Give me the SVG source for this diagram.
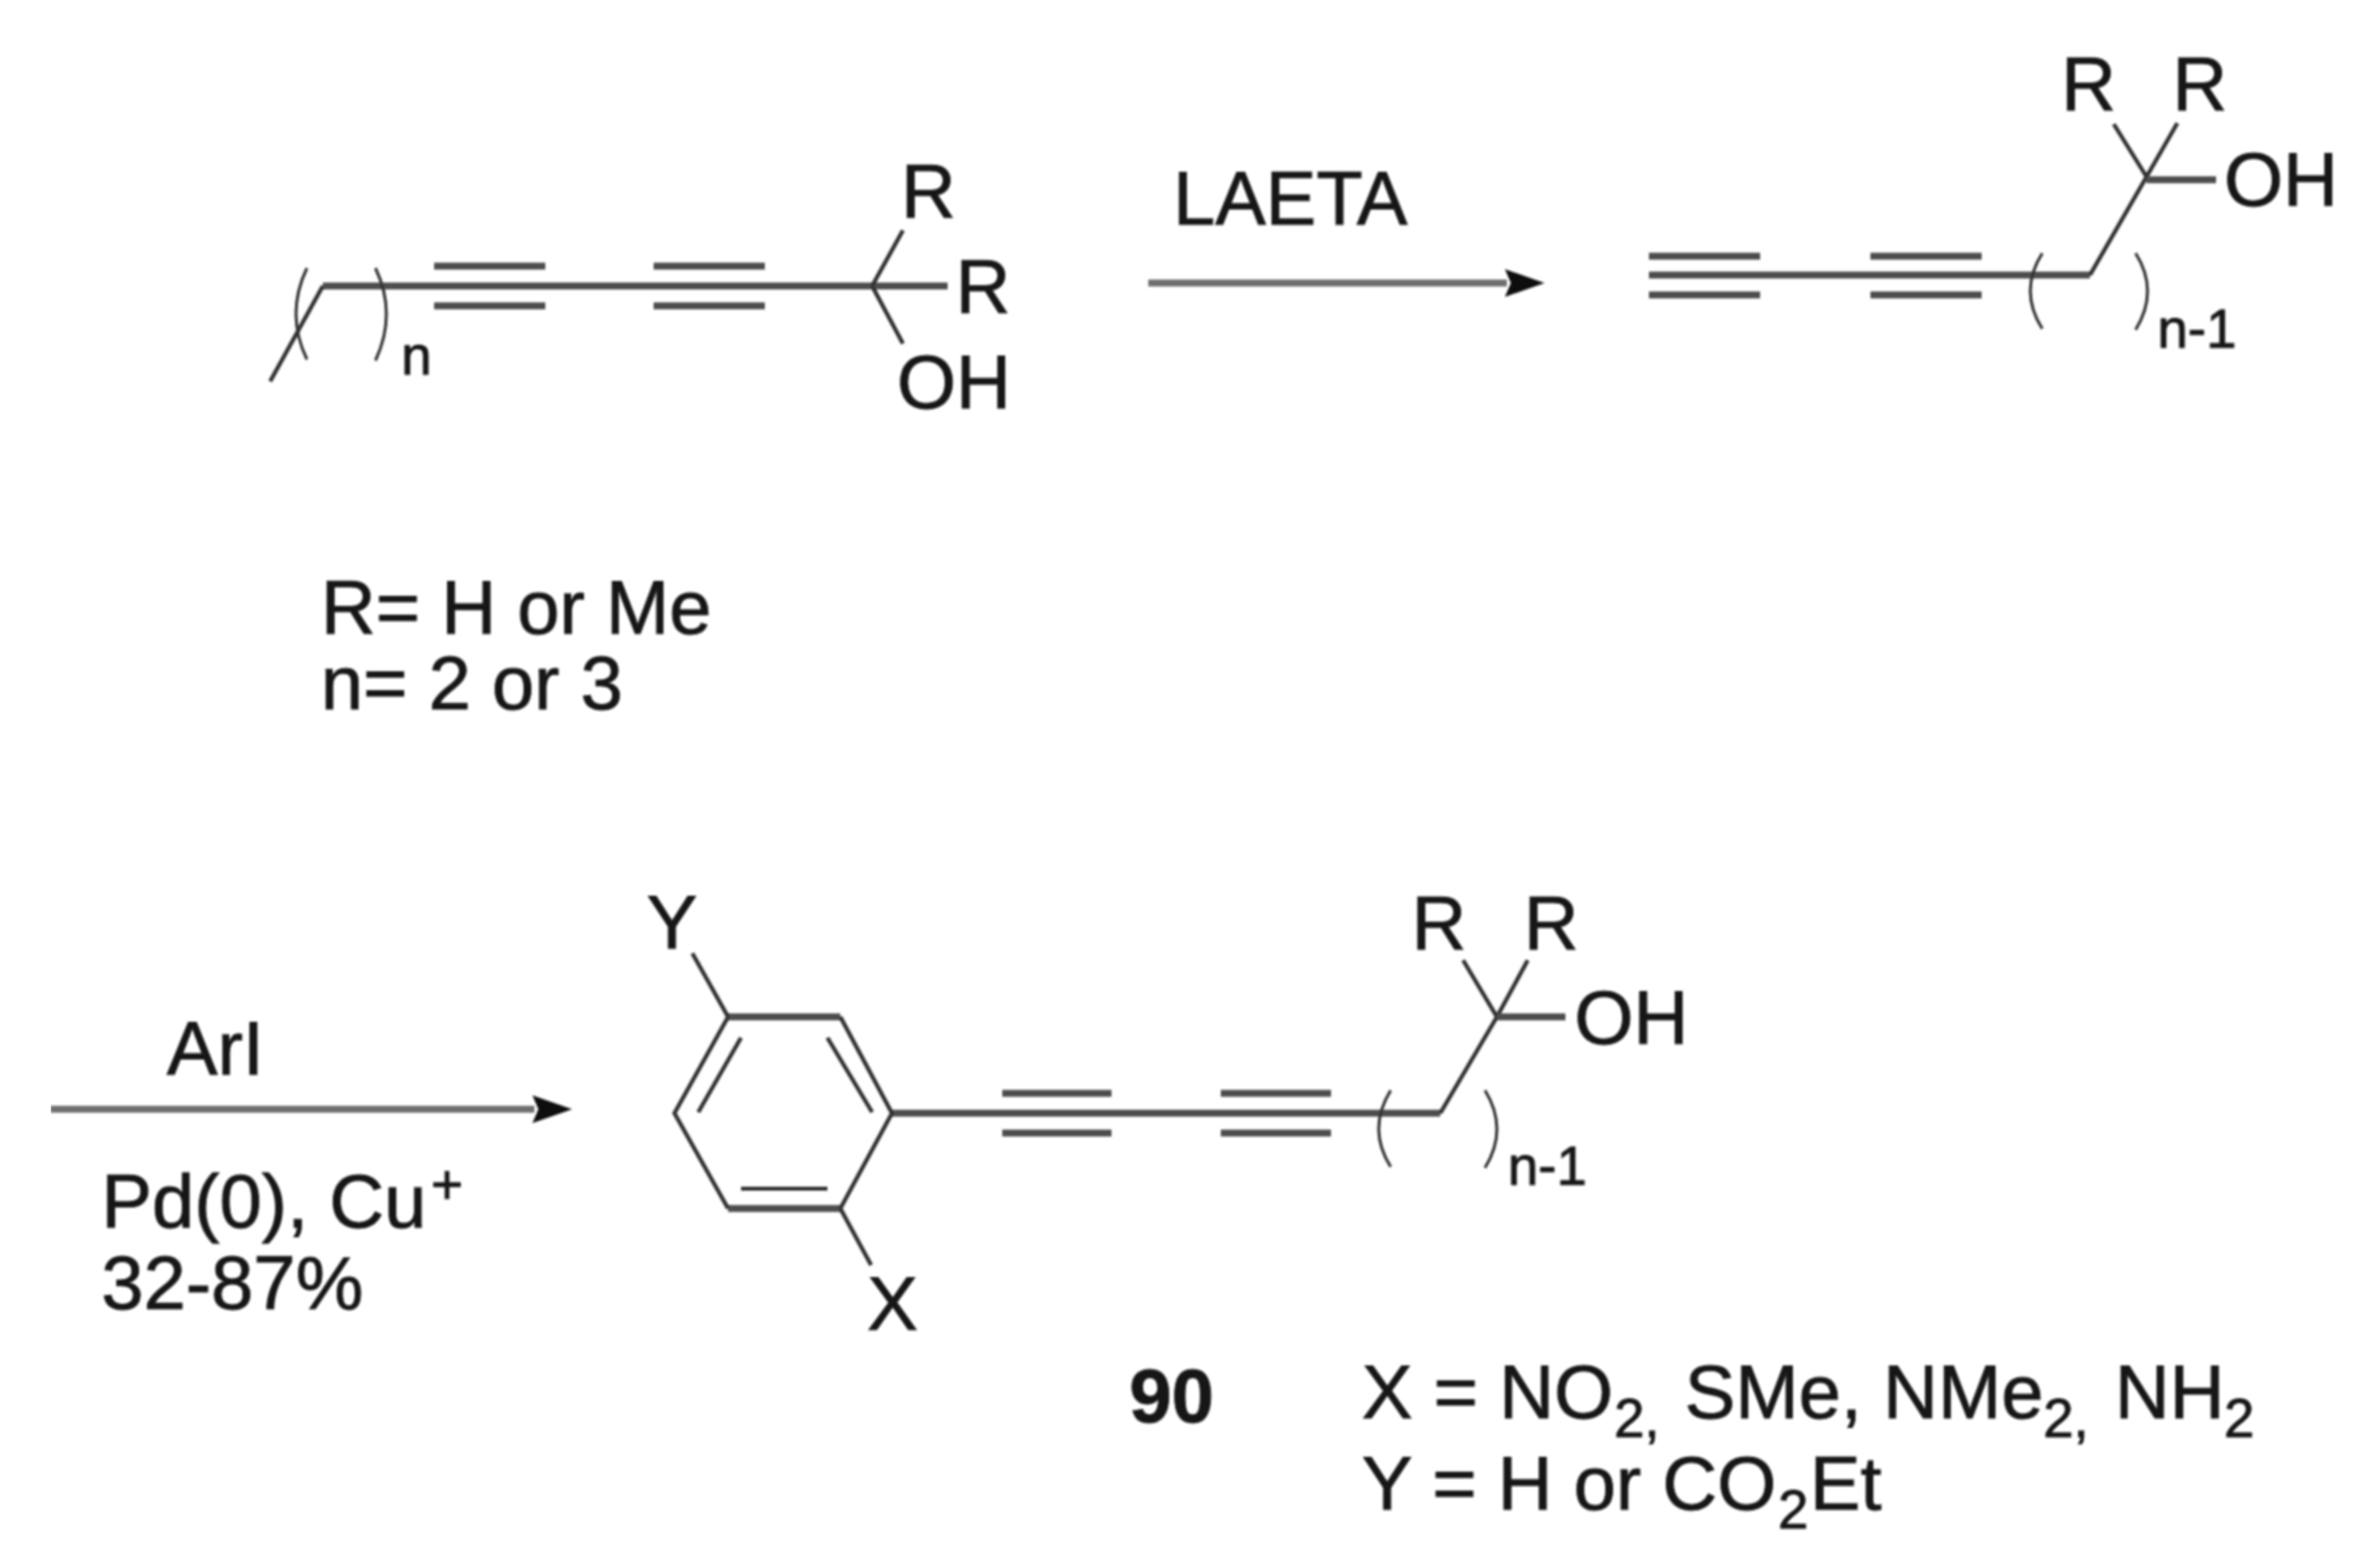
<svg xmlns="http://www.w3.org/2000/svg" width="2393" height="1579" viewBox="0 0 2393 1579">
<defs>
<marker id="head" markerUnits="userSpaceOnUse" markerWidth="42" markerHeight="28" refX="2" refY="14" orient="auto"><path d="M0,0 L40,14 L0,28 L6,14 z" fill="#111"/></marker>
<filter id="soft" x="0" y="0" width="100%" height="100%"><feGaussianBlur stdDeviation="0.9"/></filter>
</defs>
<style>
text{font-family:"Liberation Sans",Arial,sans-serif;font-size:76.5px;fill:#151515;stroke:#151515;stroke-width:0.9}
.b{stroke:#4e4e4e;stroke-width:7;fill:none;stroke-linecap:butt}
.s{stroke:#333;stroke-width:4.2;fill:none;stroke-linecap:butt}
.p{stroke:#333;stroke-width:3;fill:none}
.sm{font-size:55px}
.bd{font-weight:bold}
.a{stroke:#6e6e6e;stroke-width:7;fill:none;marker-end:url(#head)}
</style>
<rect width="2393" height="1579" fill="#fff"/>
<g filter="url(#soft)">
<g id="connectors">
<path class="a" d="M1156,285 H1517"/>
<path class="a" d="M51,1117 H538"/>
</g>
<g id="reactant">
<path class="b" d="M325,288 H954"/>
<path class="b" d="M437,268 H549 M437,308 H549 M658,268 H770 M658,308 H770"/>
<path class="s" d="M325,288 L272,384 M878,288 L909,232 M878,288 L909,346"/>
<path class="p" d="M309,270 Q287,316 309,362 M378,270 Q400,316 378,363"/>
<text x="907" y="219">R</text>
<text x="962" y="315">R</text>
<text x="903" y="411">OH</text>
<text class="sm" x="404" y="377">n</text>
</g>
<g id="conditions-r">
<text x="323" y="638">R= H or Me</text>
<text x="323" y="714">n= 2 or 3</text>
</g>
<g id="laeta"><text x="1181" y="226" textLength="236" lengthAdjust="spacingAndGlyphs">LAETA</text></g>
<g id="intermediate">
<path class="b" d="M1660,277 H2104"/>
<path class="b" d="M1660,258 H1772 M1660,297 H1772 M1883,258 H1995 M1883,297 H1995"/>
<path class="s" d="M2104,277 L2161,178 M2161,178 L2128,125 M2161,178 L2192,124"/>
<path class="b" d="M2161,181 H2231"/>
<path class="p" d="M2056,255 Q2032,293 2056,331 M2150,255 Q2174,293 2150,332"/>
<text x="2075" y="111">R</text>
<text x="2187" y="111">R</text>
<text x="2239" y="207">OH</text>
<text class="sm" x="2172" y="350">n-1</text>
</g>
<g id="ari"><text x="168" y="1082">ArI</text></g>
<g id="conditions-pd">
<text x="102" y="1236">Pd(0), Cu</text>
<text class="sm" x="434" y="1212">+</text>
<text x="102" y="1318">32-87%</text>
</g>
<g id="product">
<path class="b" d="M733,1024 H846 M733,1217 H846 M898,1121 H1450"/>
<path class="s" d="M733,1024 L679,1121 L733,1217 M846,1024 L898,1121 L846,1217"/>
<path class="s" d="M746,1045 L703,1120 M833,1045 L878,1120 M746,1197 H833"/>
<path class="b" d="M1009,1101 H1119 M1009,1141 H1119 M1229,1101 H1340 M1229,1141 H1340"/>
<path class="s" d="M697,960 L733,1024 M846,1217 L877,1274 M1450,1121 L1507,1024 L1473,967 M1507,1024 L1538,967"/>
<path class="b" d="M1507,1024 H1576"/>
<path class="p" d="M1400,1098 Q1376,1137 1400,1175 M1495,1098 Q1519,1137 1495,1176"/>
<text x="651" y="955">Y</text>
<text x="873" y="1339">X</text>
<text x="1421" y="956">R</text>
<text x="1534" y="956">R</text>
<text x="1585" y="1051">OH</text>
<text class="sm" x="1518" y="1193">n-1</text>
</g>
<g id="compound-90"><text class="bd" x="1137" y="1432">90</text></g>
<g id="legend">
<text x="1371" y="1428">X = NO</text>
<text class="sm" x="1625" y="1447">2,</text>
<text x="1696" y="1428">SMe, NMe</text>
<text class="sm" x="2057" y="1447">2,</text>
<text x="2129" y="1428">NH</text>
<text class="sm" x="2239" y="1447">2</text>
<text x="1371" y="1520">Y = H or CO</text>
<text class="sm" x="1790" y="1539">2</text>
<text x="1822" y="1520">Et</text>
</g>
</g>
</svg>
